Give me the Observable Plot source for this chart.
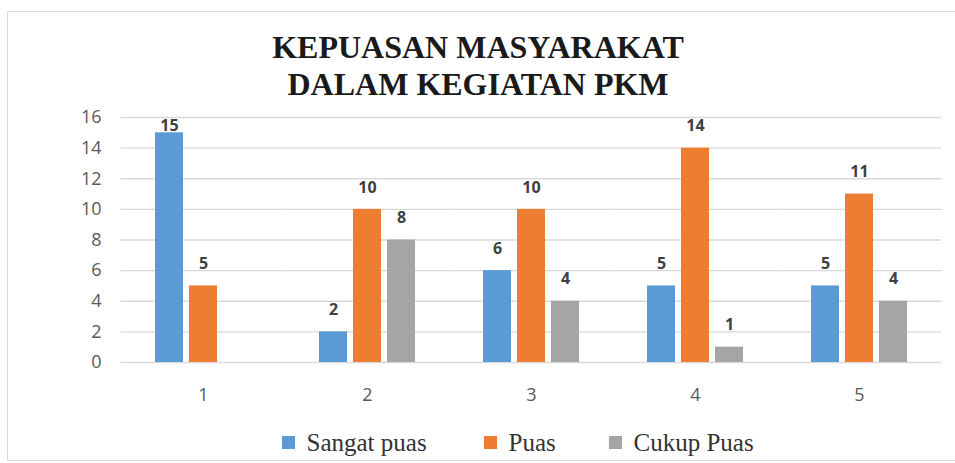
<!DOCTYPE html>
<html>
<head>
<meta charset="utf-8">
<script src="https://cdn.jsdelivr.net/npm/d3@7"></script>
<script src="https://cdn.jsdelivr.net/npm/@observablehq/plot@0.6"></script>
<style>
  html, body { margin: 0; padding: 0; background: #fff; }
  #wrap { position: relative; width: 955px; height: 463px; overflow: hidden; background: #fff; }
  #frame { position: absolute; left: 7px; top: 11px; width: 960px; height: 450px; border: 1px solid #d9d9d9; box-sizing: border-box; }
  #title { position: absolute; left: 0; top: 0; }
  #chart { position: absolute; left: 0; top: 100px; }
  #legend { position: absolute; left: 0; top: 424px; }
</style>
</head>
<body>
<div id="wrap">
  <div id="frame"></div>
  <div id="chart"></div>
  <div id="title"></div>
  <div id="legend"></div>
</div>
<script>
const titleText = "KEPUASAN MASYARAKAT\nDALAM KEGIATAN PKM";
const categories = ["1", "2", "3", "4", "5"];
const seriesNames = ["Sangat puas", "Puas", "Cukup Puas"];
const seriesColors = ["#5B9BD5", "#ED7D31", "#A5A5A5"];
const sangatPuas = [15, 2, 6, 5, 5];
const puas = [5, 10, 10, 14, 11];
const cukupPuas = [null, 8, 4, 1, 4];
const yTicks = [0, 2, 4, 6, 8, 10, 12, 14, 16];

const seriesValues = [sangatPuas, puas, cukupPuas];
const data = [];
categories.forEach((c, i) => {
  seriesNames.forEach((s, j) => {
    const v = seriesValues[j][i];
    if (v != null) data.push({category: c, series: s, value: v});
  });
});

const serif = "'Liberation Serif', 'Times New Roman', serif";

// Title
const titlePlot = Plot.plot({
  width: 955, height: 112, margin: 0,
  style: {background: "transparent", overflow: "visible"},
  marks: [
    Plot.text([titleText], {frameAnchor: "middle", text: d => d, dy: 8, lineHeight: 1.15,
      fontFamily: serif, fontWeight: "bold", fontSize: 32, fill: "#1a1a1a"})
  ]
});
document.getElementById("title").appendChild(titlePlot);

// Chart
const chart = Plot.plot({
  width: 955,
  height: 310,
  marginLeft: 121,
  marginRight: 14,
  marginTop: 17,
  marginBottom: 48,
  style: {fontFamily: "'Open Sans', 'DejaVu Sans', sans-serif", fontSize: "18px", color: "#595959", background: "transparent"},
  fx: {domain: categories, paddingInner: 0.34, paddingOuter: 0.17, label: null, axis: "bottom", tickSize: 0, tickPadding: 26},
  x: {domain: seriesNames, padding: 0.17, axis: null},
  y: {domain: [0, 16], ticks: yTicks, label: null, tickSize: 0, tickPadding: 48, grid: false},
  color: {domain: seriesNames, range: seriesColors},
  marks: [
    Plot.ruleY(yTicks, {stroke: "#d9d9d9", strokeWidth: 1.3, insetLeft: -28.5, insetRight: -28.5}),
    Plot.barY(data, {fx: "category", x: "series", y: "value", fill: "series"}),
    Plot.text(data, {fx: "category", x: "series", y: d => Math.min(d.value, 14), text: d => String(d.value),
      dy: -22, fontWeight: "bold", fontSize: 16, fill: "#404040"})
  ]
});
document.getElementById("chart").appendChild(chart);

// Legend
const swatchCenter = [288, 490, 615];
const labelStart = [306, 508, 633];
const legendMarks = [];
seriesNames.forEach((s, j) => {
  legendMarks.push(Plot.dot([s], {frameAnchor: "left", dx: swatchCenter[j], symbol: "square", r: 7.4,
    fill: seriesColors[j], stroke: "none"}));
  legendMarks.push(Plot.text([s], {frameAnchor: "left", dx: labelStart[j], text: d => d, textAnchor: "start",
    fontFamily: serif, fontSize: 25, fill: "#333"}));
});
const legendPlot = Plot.plot({
  width: 955, height: 36, margin: 0,
  style: {background: "transparent"},
  marks: legendMarks
});
document.getElementById("legend").appendChild(legendPlot);
</script>
</body>
</html>
